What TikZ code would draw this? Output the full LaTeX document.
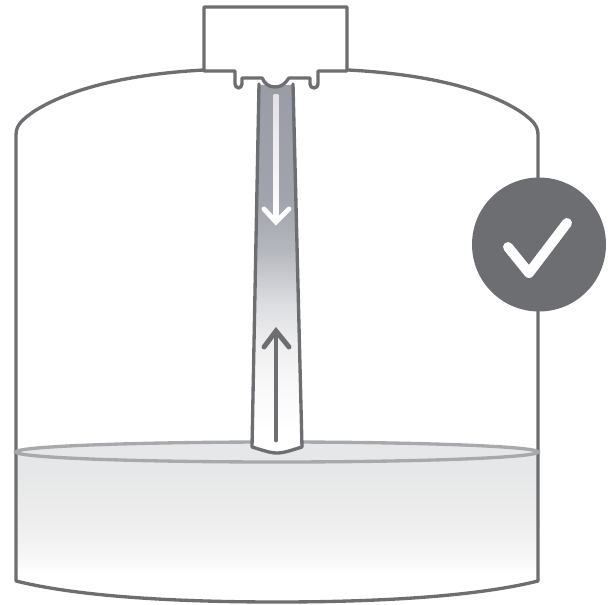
\documentclass[tikz,border=0pt]{standalone}
\definecolor{linegray}{HTML}{6D6E71}
\definecolor{surf}{HTML}{A7A9AC}
\definecolor{liq}{HTML}{E6E7E8}
\definecolor{tubetop}{HTML}{9A9CA6}
\definecolor{tubemid}{HTML}{B5B7BE}
\definecolor{tubelow}{HTML}{DADBDF}
\pgfdeclareverticalshading{liqshade}{100bp}{color(0bp)=(white); color(34bp)=(white); color(41.3bp)=(white!96!black); color(52.3bp)=(white!93!black); color(69bp)=(liq); color(100bp)=(liq)}
\pgfdeclareverticalshading{tubeshade}{100bp}{color(0bp)=(white); color(28bp)=(white); color(34.9bp)=(white!97!black); color(40.4bp)=(white!93!black); color(45.8bp)=(tubelow); color(52.6bp)=(tubemid); color(59.4bp)=(tubetop!92!white); color(75bp)=(tubetop); color(100bp)=(tubetop)}
\tikzset{
  x=0.75pt,y=-0.75pt,
  outline/.style={draw=linegray,line width=2.5pt,line join=round,line cap=round},
  flowarrow/.style={line width=3.7pt,line cap=round,line join=miter}
}
\begin{document}
\begin{tikzpicture}
\useasboundingbox (0,0) rectangle (613,605);
% liquid
\path[shading=liqshade]
  (16,452) -- (16,581) .. controls (80,597) and (180,602) .. (277,602) .. controls (374,602) and (474,597) .. (538,581) -- (538,452) -- cycle;
% jar
\draw[outline] (204,70) .. controls (130,74) and (70,88) .. (33,112) .. controls (22,120) and (16,125) .. (16,135) -- (16,581)
  .. controls (80,597) and (180,602) .. (277,602) .. controls (374,602) and (474,597) .. (538,581)
  -- (538,135) .. controls (538,125) and (532,120) .. (521,112) .. controls (484,88) and (424,74) .. (348,70);
% surface
\fill[liq] (277,452) ellipse [x radius=261,y radius=10];
\draw[surf,line width=2.5pt] (277,452) ellipse [x radius=261,y radius=10];
% tube
\path[shading=tubeshade]
  (259,85) -- (252,447) .. controls (262,450) and (270,453) .. (277,453) .. controls (284,453) and (292,450) .. (302,447) -- (293,85) -- cycle;
\draw[outline] (259,84) -- (252,447) .. controls (262,450) and (270,453) .. (277,453) .. controls (284,453) and (292,450) .. (302,447) -- (293,84);
% cap
\filldraw[outline,fill=white] (204,71) -- (204,7) -- (347,7) -- (347,71) -- (318,71)
  [rounded corners=3] -- (318,88) -- (310,88) [sharp corners] -- (310,78) -- (289,78) .. controls (285,84) and (281,87) .. (275,87)
  .. controls (269,87) and (265,84) .. (262,78) -- (242,78) [rounded corners=3] -- (242,88) -- (235,88) [sharp corners] -- (235,71) -- cycle;
% arrows
\coordinate (dt) at (276,95); \coordinate (dh) at (276,222);
\coordinate (ut) at (276,440); \coordinate (uh) at (276,331);
\shade[top color=white!70!tubetop,bottom color=white] (273.6,95) rectangle (278.4,220);
\draw[flowarrow,draw=white] (264,209) -- (dh) -- (289,209);
\draw[flowarrow,draw=linegray] (ut) -- (uh);
\draw[flowarrow,draw=linegray] (264,347) -- (uh) -- (289,347);
% badge
\node[circle,fill=linegray,minimum size=100.5pt,inner sep=0pt] (badge) at (539,244.5) {};
\draw[white,line width=7.5pt,line cap=round,line join=round] (508,247) -- (529,273) -- (567,223);
\end{tikzpicture}
\end{document}
